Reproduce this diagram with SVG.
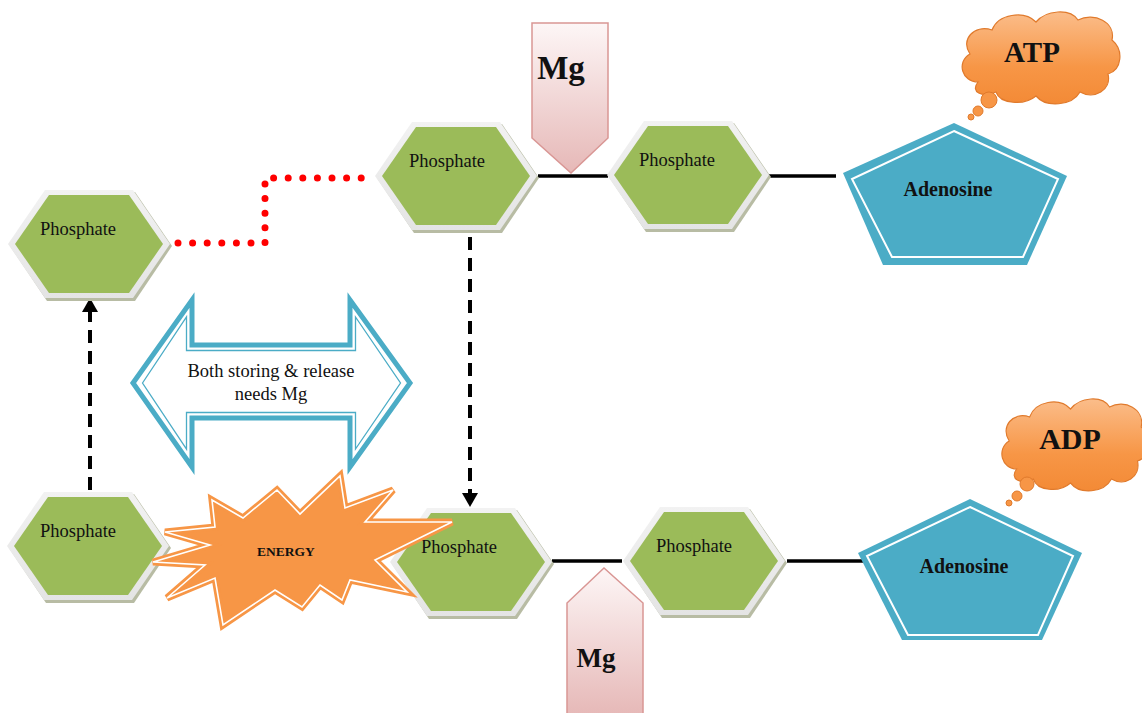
<svg xmlns="http://www.w3.org/2000/svg" width="1142" height="713" viewBox="0 0 1142 713">
<defs>
<style>
.t{font-family:"Liberation Serif","Times New Roman",serif;fill:#111}
.ph{font-size:18.5px;text-anchor:middle}
.b{font-weight:bold;text-anchor:middle}
.conn{fill:none;stroke:#000}
</style>
<linearGradient id="mgGrad" x1="0" y1="0" x2="0" y2="1">
<stop offset="0" stop-color="#fdf6f6"/><stop offset="1" stop-color="#e6b8b7"/>
</linearGradient>
<linearGradient id="cloudGrad" x1="0" y1="0" x2="0" y2="1">
<stop offset="0" stop-color="#fbbd8a"/><stop offset="0.6" stop-color="#f79646"/><stop offset="1" stop-color="#f38a36"/>
</linearGradient>
<linearGradient id="hexBorder" x1="0" y1="0" x2="0" y2="1">
<stop offset="0" stop-color="#f2f2f2"/><stop offset="1" stop-color="#e4e4e4"/>
</linearGradient>
<g id="hex">
<polygon points="-79,2 -42,-52 46,-52 83,2 46,57 -42,57" fill="#b8bca4"/>
<polygon points="-81,0 -44,-54 44,-54 81,0 44,54 -44,54" fill="url(#hexBorder)"/>
<polygon points="-74,0 -40,-49 40,-49 74,0 40,49 -40,49" fill="#9bbb59"/>
</g>
<path id="cloud" d="M20,72 C4,72 -2,52 12,44 C2,30 16,14 34,20 C40,4 66,0 78,12 C88,0 112,-2 120,10 C136,2 158,12 154,30 C166,40 164,60 150,64 C154,80 136,90 122,82 C114,96 88,98 78,86 C66,96 42,94 38,82 C24,88 12,82 20,72 Z"/>
<marker id="ah" markerUnits="userSpaceOnUse" markerWidth="16" markerHeight="16" viewBox="0 0 14 16" refX="0" refY="8" orient="auto">
<path d="M0,0 L14,8 L0,16 Z" fill="#000"/>
</marker>
</defs>
<rect width="1142" height="713" fill="#fff"/>

<g id="connectors">
<path class="conn" d="M538,176 H608" stroke-width="3.5"/>
<path class="conn" d="M768,176 H836" stroke-width="3.5"/>
<path class="conn" d="M552,561 H622" stroke-width="3.5"/>
<path class="conn" d="M787,561 H866" stroke-width="3.5"/>
<path d="M178,243 H265 V178 H362" fill="none" stroke="#ff0000" stroke-width="7" stroke-linecap="round" stroke-dasharray="0 14.6"/>
<path class="conn" d="M470,237 V493" stroke-width="4" stroke-dasharray="13 8" marker-end="url(#ah)"/>
<path class="conn" d="M90,490 V312" stroke-width="4" stroke-dasharray="13 8" marker-end="url(#ah)"/>
</g>

<g id="hex1"><use href="#hex" transform="translate(89,244)"/><text class="t ph" x="78" y="235">Phosphate</text></g>
<g id="hex2"><use href="#hex" transform="translate(456,176)"/><text class="t ph" x="447" y="167">Phosphate</text></g>
<g id="hex3"><use href="#hex" transform="translate(688,175)"/><text class="t ph" x="677" y="166">Phosphate</text></g>
<g id="hex4"><use href="#hex" transform="translate(88,546)"/><text class="t ph" x="78" y="537">Phosphate</text></g>
<g id="hex5"><use href="#hex" transform="translate(471,562)"/><text class="t ph" x="459" y="553">Phosphate</text></g>
<g id="hex6"><use href="#hex" transform="translate(704,561)"/><text class="t ph" x="694" y="552">Phosphate</text></g>

<g id="mgTop">
<polygon points="532,23 608,23 608,138 571,173 532,138" fill="url(#mgGrad)" stroke="#d99694" stroke-width="1.5"/>
<text class="t b" x="561" y="79" font-size="33">Mg</text>
</g>
<g id="mgBottom">
<polygon points="567,716 567,603 604,568 643,603 643,716" fill="url(#mgGrad)" stroke="#d99694" stroke-width="1.5"/>
<text class="t b" x="596" y="667" font-size="27">Mg</text>
</g>

<g id="adenosineTop">
<polygon points="954,123 1067,176 1027,265 883,265 843,173" fill="#4bacc6"/>
<polygon points="954,131 1058,179 1023,257 892,257 852,179" fill="none" stroke="#fff" stroke-width="2"/>
<text class="t b" x="948" y="196" font-size="20">Adenosine</text>
</g>
<g id="adenosineBottom">
<polygon points="970,499 1082,553 1042,640 902,640 858,553" fill="#4bacc6"/>
<polygon points="970,507 1073,556 1038,635 908,635 867,556" fill="none" stroke="#fff" stroke-width="2"/>
<text class="t b" x="964" y="573" font-size="20">Adenosine</text>
</g>

<g id="atp">
<use href="#cloud" transform="translate(958,10)" fill="url(#cloudGrad)" stroke="#e07a2c" stroke-width="1.2"/>
<circle cx="989" cy="100" r="8" fill="#f79646" stroke="#e07a2c"/>
<circle cx="978" cy="111" r="5" fill="#f79646" stroke="#e07a2c"/>
<circle cx="971" cy="117" r="3" fill="#f79646" stroke="#e07a2c"/>
<text class="t b" x="1032" y="62" font-size="29">ATP</text>
</g>
<g id="adp">
<use href="#cloud" transform="translate(998,397) scale(0.93,1)" fill="url(#cloudGrad)" stroke="#e07a2c" stroke-width="1.2"/>
<circle cx="1027" cy="484" r="7" fill="#f79646" stroke="#e07a2c"/>
<circle cx="1017" cy="496" r="5" fill="#f79646" stroke="#e07a2c"/>
<circle cx="1009" cy="503" r="3" fill="#f79646" stroke="#e07a2c"/>
<text class="t b" x="1070" y="449" font-size="30">ADP</text>
</g>

<g id="doubleArrow">
<path d="M133,383 L192,300 L192,345 L350,345 L350,300 L410,383 L350,467 L350,418 L192,418 L192,467 Z" fill="#fff" stroke="#4bacc6" stroke-width="5" stroke-linejoin="miter"/>
<path d="M142.5,383 L186.5,317 L186.5,350.5 L355.5,350.5 L355.5,317 L400.5,383 L355.5,449 L355.5,412.5 L186.5,412.5 L186.5,449 Z" fill="none" stroke="#4bacc6" stroke-width="1.3"/>
<text class="t" x="271" y="377" font-size="18.5" text-anchor="middle">Both storing &amp; release</text>
<text class="t" x="271" y="400" font-size="18.5" text-anchor="middle">needs Mg</text>
</g>

<g id="energy">
<polygon points="212,500 243,518 277,490 300,514 340,476 345,508 393,490 365,522 452,522 375,560 407,592 350,580 342,600 320,585 302,607 275,590 223,625 215,578 167,598 205,565 153,562 210,545 165,532 215,527" fill="#f79646" stroke="#f79646" stroke-width="7" stroke-linejoin="miter"/>
<polygon points="212,500 243,518 277,490 300,514 340,476 345,508 393,490 365,522 452,522 375,560 407,592 350,580 342,600 320,585 302,607 275,590 223,625 215,578 167,598 205,565 153,562 210,545 165,532 215,527" fill="none" stroke="#fff" stroke-width="1.6"/>
<text class="t b" x="286" y="556" font-size="13.5">ENERGY</text>
</g>
</svg>
